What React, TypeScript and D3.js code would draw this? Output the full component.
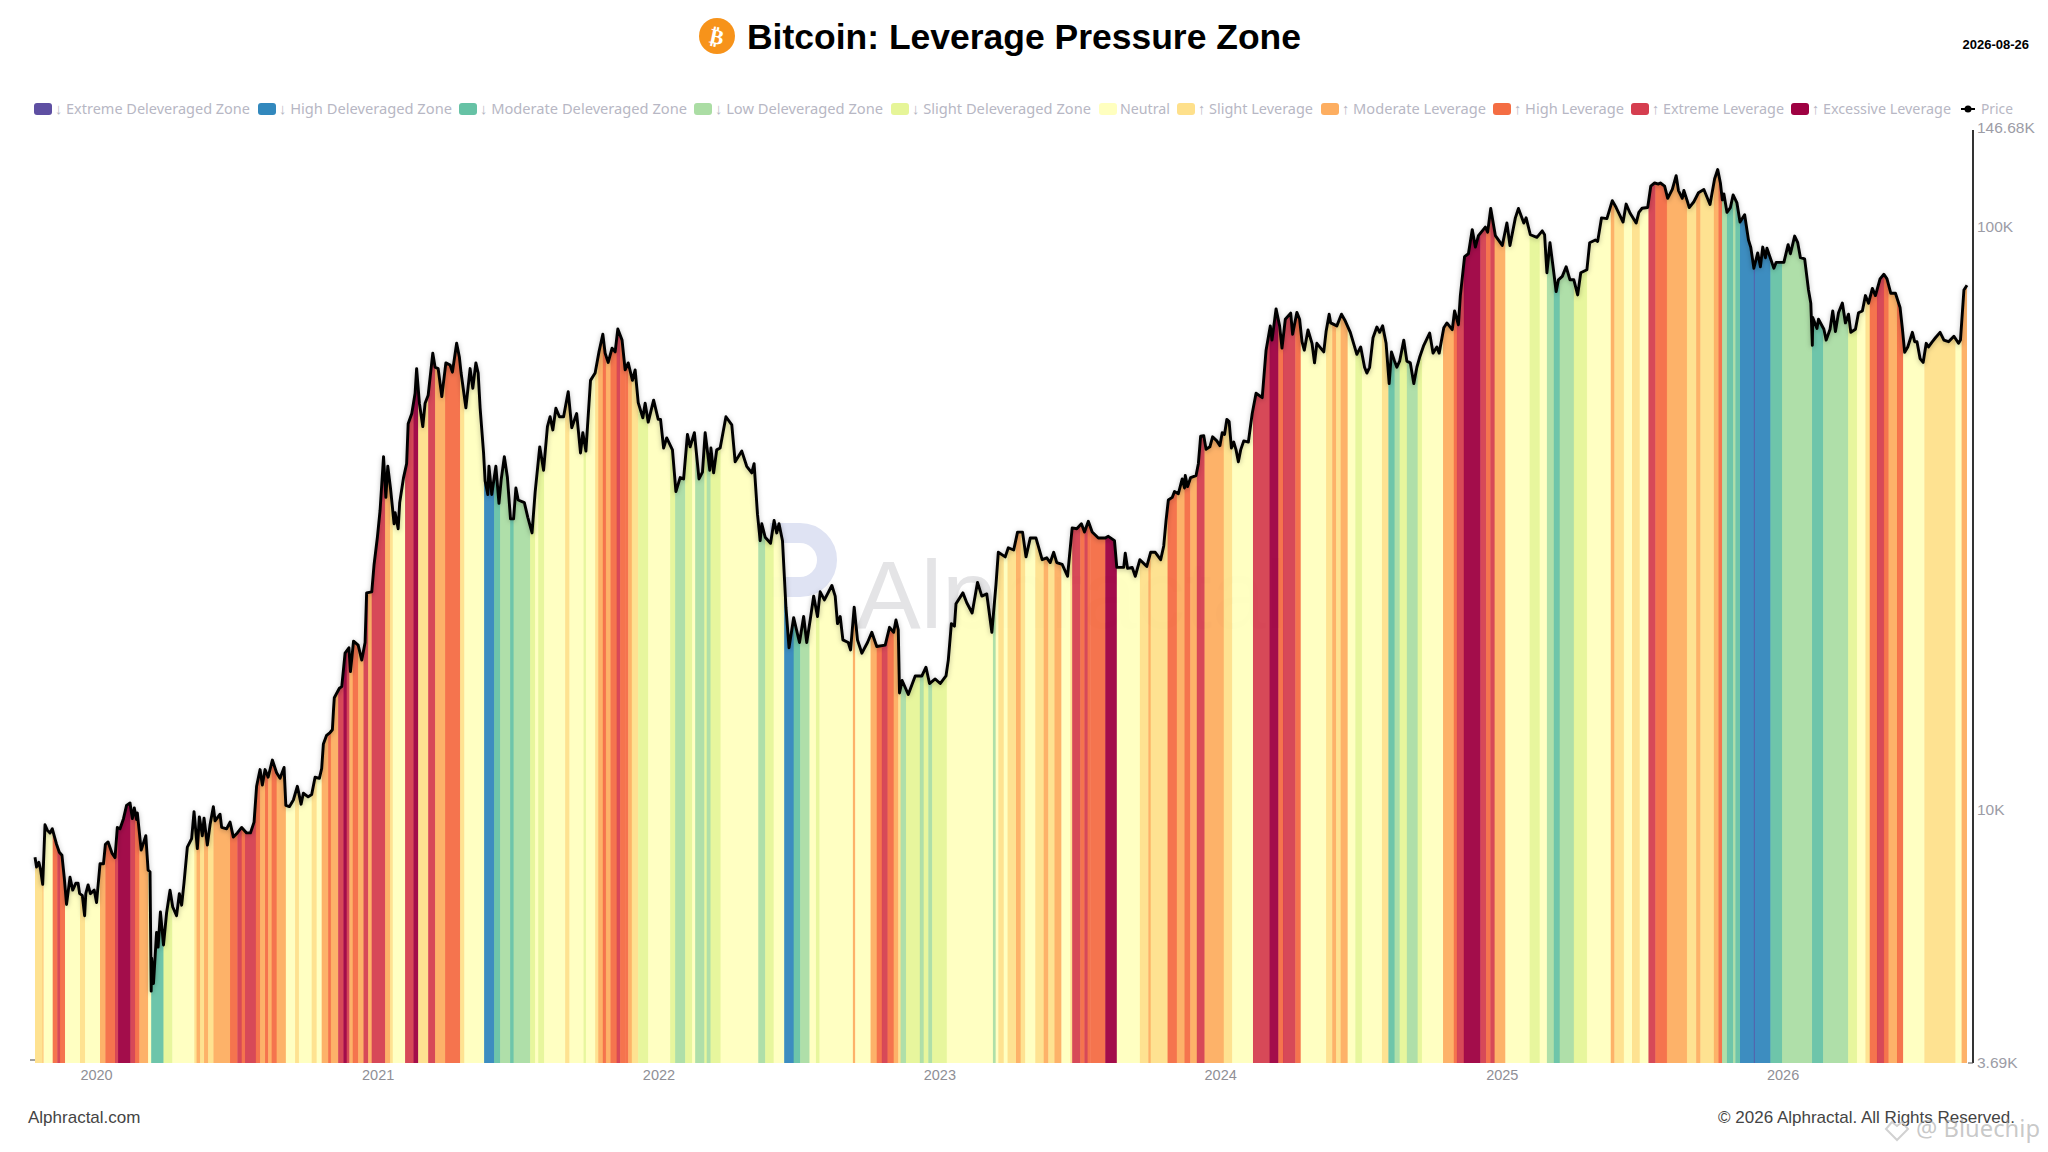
import * as d3 from 'd3'

// zone names, lowest leverage first
const zoneNames = [
  '↓ Extreme Deleveraged Zone',
  '↓ High Deleveraged Zone',
  '↓ Moderate Deleveraged Zone',
  '↓ Low Deleveraged Zone',
  '↓ Slight Deleveraged Zone',
  'Neutral',
  '↑ Slight Leverage',
  '↑ Moderate Leverage',
  '↑ High Leverage',
  '↑ Extreme Leverage',
  '↑ Excessive Leverage',
]
const zoneColors = ['#5e4fa2', '#3288bd', '#66c2a5', '#abdda4', '#e6f598', '#ffffbf', '#fee08b', '#fdae61', '#f46d43', '#d53e4f', '#9e0142']

const yearTicks = [2020, 2021, 2022, 2023, 2024, 2025, 2026]
const priceTicks = [3690, 10000, 100000, 146680]
const priceTickLabels = ['3.69K', '10K', '100K', '146.68K']

// [days since 2019-10-13, price in thousands of USD]
const pricePoints: [number, number][] = [
  [0, 8.31], [2, 8.0], [5, 8.15], [7, 7.95], [10, 7.47], [13, 9.45], [16, 9.25], [19.5, 9.15], [22.5, 9.3], [26, 8.95],
  [28, 8.75], [31.6, 8.48], [35, 8.38], [38, 7.68], [41, 6.9], [45.5, 7.68], [49, 7.3], [53, 7.5], [56, 7.5], [58, 7.2],
  [61.5, 7.15], [64.5, 6.6], [66, 7.2], [69, 7.45], [72, 7.2], [77, 7.3], [80, 6.95], [84.5, 8.1], [89, 8.1], [91.5, 8.75],
  [95, 8.83], [100, 8.45], [104, 8.3], [107, 9.35], [110.5, 9.3], [115, 9.68], [119, 10.2], [123.5, 10.3], [126.5, 9.68], [129, 10.1],
  [132, 9.65], [133, 9.9], [138, 8.55], [144, 9.05], [147, 7.9], [149.5, 7.85], [151, 4.9], [151.6, 5.58], [154, 5.05], [158, 6.18],
  [160, 5.83], [163, 6.7], [167, 5.88], [171, 6.67], [175.5, 7.3], [179, 6.83], [184, 6.6], [187.6, 7.2], [190.6, 6.88], [193.7, 7.52],
  [198, 8.65], [203.6, 8.95], [206.7, 9.95], [211, 8.6], [213.6, 9.75], [217.5, 9.05], [219.7, 9.7], [224, 8.72], [227.5, 9.45], [231.8, 10.15],
  [234, 9.6], [240.5, 9.85], [242.6, 9.35], [249, 9.3], [253.5, 9.55], [257.8, 9.0], [263, 9.15], [268.6, 9.35], [275, 9.15], [280, 9.15],
  [284.7, 9.55], [288, 11.0], [292.5, 11.75], [295.5, 11.05], [299, 11.75], [303, 11.4], [308.5, 12.2], [314, 11.6], [318.5, 11.35], [323.7, 11.85],
  [326, 10.2], [330.6, 10.15], [335.8, 10.42], [341, 11.0], [345.8, 10.25], [348.8, 10.7], [355, 10.55], [359.6, 10.65], [364, 11.4], [369.6, 11.35],
  [372.6, 11.8], [374.8, 13.0], [379, 13.45], [383.5, 13.6], [386.5, 13.75], [388, 14.9], [389, 15.6], [395.6, 16.2], [398.7, 16.3], [403, 18.6],
  [408, 19.0], [410, 17.3], [414, 19.5], [420, 19.2], [424.7, 18.1], [429, 19.4], [431, 23.6], [437.7, 23.7], [440.7, 26.4], [445, 29.4],
  [448.5, 32.7], [453, 40.4], [456, 34.4], [458.5, 38.9], [462, 35.7], [466.7, 31.0], [468, 32.4], [472, 30.4], [474, 33.7], [479, 37.2],
  [483, 39.3], [485, 46.0], [489.7, 47.9], [494, 51.9], [496, 57.2], [499.6, 49.9], [504, 45.5], [507, 49.9], [511, 51.5], [517, 60.8],
  [520, 57.5], [524, 57.2], [528.7, 51.2], [534, 58.5], [539.5, 58], [542.5, 56.4], [548, 63.2], [551.6, 59.8], [553.8, 56.2], [560, 49.0],
  [565.5, 57.2], [569, 52.9], [573, 58.5], [576, 56.2], [578.5, 49.0], [583, 41.0], [585, 36.7], [588.5, 34.8], [590, 38.9], [593.6, 34.8],
  [599, 38.9], [603, 33.6], [606, 37.0], [610, 40.4], [614, 37.2], [618, 31.6], [622, 31.6], [625, 35.7], [628, 34.05], [636, 33.7],
  [640.5, 31.8], [646, 29.9], [650, 35.1], [656, 42.0], [661, 38.3], [666, 45.5], [669.5, 47.3], [673, 44.9], [677, 48.9], [681.6, 47.3],
  [687, 47.3], [693, 52.2], [697.6, 45.3], [704, 47.9], [709, 41.0], [712, 44.4], [716, 41.3], [722, 54.6], [728, 56.2], [733, 61.1],
  [738, 65.5], [741, 60.8], [745, 58.6], [750, 62], [754, 61.1], [757.5, 66.9], [763, 64.0], [767, 56.9], [771, 58.5], [776.5, 54.6],
  [780, 56.9], [784, 50.0], [790, 47.1], [793, 49.9], [797, 46.3], [804, 50.5], [810, 46.8], [813, 46.8], [817, 41.8], [821, 43.5],
  [828.5, 41.5], [833, 35.2], [838.5, 37.2], [843, 37.0], [848, 44.1], [851.5, 42.0], [857, 44.4], [863, 37.0], [867.5, 38.0], [871, 44.4],
  [877, 38.3], [878.5, 41.8], [882, 37.9], [886, 41.5], [890.5, 41.8], [898, 47.3], [905.6, 45.8], [910, 39.6], [918.6, 41.3], [925, 38.9],
  [931.6, 37.9], [934.6, 39.3], [939, 32.2], [942.5, 29.0], [944.6, 31.0], [949, 29.4], [956, 28.7], [960.6, 31.4], [964, 29.9], [967, 31.0],
  [971.5, 29.0], [976, 22.3], [980, 19.0], [986, 21.4], [993.6, 19.4], [999, 21.5], [1003, 19.4], [1007.5, 21.2], [1012, 23.3], [1017, 21.5],
  [1020.5, 23.7], [1026, 22.95], [1035.7, 24.3], [1040, 23.3], [1043, 20.9], [1046.5, 21.5], [1050, 19.6], [1057, 19.4], [1060, 18.84], [1064.7, 22.3],
  [1069, 19.6], [1074.7, 18.6], [1082, 19.4], [1087.6, 20.2], [1094, 19.1], [1105, 19.2], [1110.6, 20.6], [1116, 20.2], [1119, 21.2], [1122, 20.4],
  [1123.6, 15.9], [1127, 16.7], [1135, 15.8], [1144, 17.0], [1152.7, 17.0], [1158, 17.6], [1162.6, 16.5], [1170, 16.8], [1176.5, 16.5], [1184, 17.0],
  [1187, 18.1], [1191, 20.9], [1195, 20.7], [1197, 22.6], [1206, 23.6], [1211, 22.7], [1218, 21.8], [1225, 24.6], [1230.6, 23.3], [1237, 23.5],
  [1243.6, 20.2], [1249, 24.4], [1252, 27.7], [1261, 27.2], [1265, 28.2], [1272, 27.95], [1277, 30.0], [1283.5, 30.0], [1288, 27.2], [1293.5, 29.3],
  [1301, 29.3], [1309, 26.9], [1315, 27.1], [1319.5, 26.6], [1324, 27.7], [1328, 26.6], [1335, 26.4], [1342, 25.2], [1348, 30.5], [1354, 30.4],
  [1360, 31.0], [1364, 30.0], [1369, 31.3], [1374, 30.0], [1382, 29.3], [1391, 29.3], [1395, 29.5], [1403, 29.0], [1406, 26.1], [1415, 26.1],
  [1417, 27.6], [1420, 26.0], [1426, 26.1], [1430, 25.2], [1436, 26.9], [1445, 26.2], [1450, 27.7], [1456, 27.7], [1463, 26.9], [1467, 28.4],
  [1470, 31.4], [1473, 34.05], [1478, 34.4], [1481, 35.2], [1486, 34.9], [1491, 37.0], [1494, 35.7], [1495, 37.5], [1498, 35.9], [1502, 37.2],
  [1509, 37.5], [1512, 39.3], [1515, 43.8], [1519, 43.9], [1522, 41.6], [1527, 42], [1530.5, 43.7], [1536, 43.0], [1540, 42.2], [1543, 44.4],
  [1546, 44.1], [1549, 46.8], [1552, 46.4], [1555, 41.8], [1558, 42.8], [1561, 41.5], [1564, 39.6], [1567, 41.5], [1571, 43.0], [1577, 42.8],
  [1582, 47.9], [1587, 51.9], [1595, 51], [1600, 61.5], [1605.5, 67.7], [1607.7, 64], [1613, 72.4], [1617.6, 67.7], [1620.7, 62.0], [1625, 69.5],
  [1632, 71.2], [1634.5, 65.5], [1640, 71.4], [1643.6, 69.5], [1646.7, 63.6], [1649.7, 61.5], [1654.5, 66.6], [1659.7, 63.2], [1663, 58.5], [1666, 63.2],
  [1675, 61.1], [1678, 66.2], [1682, 70.9], [1684, 68.5], [1692, 67.7], [1698, 70.9], [1703, 69], [1709.5, 66.0], [1718, 60.5], [1723, 62.3],
  [1728, 57.5], [1731, 56.2], [1734.6, 57.5], [1739, 64.6], [1744, 67.4], [1747.6, 66], [1751.5, 67.7], [1756, 63.2], [1760, 53.9], [1763, 61.1],
  [1767, 58.9], [1770, 57.5], [1773.6, 58.9], [1779, 64], [1783, 58.9], [1787.5, 58.5], [1792, 53.9], [1796, 57.5], [1799.6, 59.8], [1805, 62.7],
  [1812.6, 65.8], [1817, 60.8], [1822, 62.3], [1825, 60.8], [1831, 67.2], [1835, 68.5], [1842, 66.7], [1845, 71.8], [1850, 68], [1852.5, 76.3],
  [1858, 89], [1863, 90], [1868, 99], [1872, 92.4], [1876, 96.7], [1885, 100], [1888, 98], [1892, 107.6], [1898, 96.7], [1907, 93],
  [1913, 101.6], [1917, 93], [1924, 103.7], [1928, 107.6], [1935, 101.6], [1938, 103.7], [1943.5, 97], [1952, 96], [1959, 98.5], [1962, 97],
  [1965, 83.5], [1969, 94], [1973, 85.5], [1977, 77.5], [1980, 81.2], [1985, 82.3], [1990, 85.5], [1995, 81.2], [2000, 81.2], [2005, 76.5],
  [2009, 83.5], [2017, 84.5], [2020.6, 94], [2028, 95], [2031, 94.5], [2036, 103.7], [2043, 103.4], [2050, 111], [2055, 108], [2064, 102],
  [2068, 109.5], [2073, 105.7], [2081, 101.6], [2084.5, 106], [2088.7, 107.7], [2096, 108], [2100, 117.5], [2105, 119], [2110, 118.5], [2112.5, 119],
  [2118, 117.5], [2122, 112], [2128, 116], [2133, 122.5], [2136, 115.5], [2141, 112], [2143, 115.5], [2147, 111.3], [2150, 108], [2156, 110.5],
  [2162, 114.5], [2169, 116], [2177, 109.3], [2183, 121], [2187, 125.5], [2190.5, 119], [2193, 111.3], [2195, 114], [2199, 106], [2203.5, 108],
  [2207, 113.5], [2212, 110], [2216, 102], [2222, 105], [2227, 95], [2230, 92.3], [2234, 85], [2239, 90.3], [2242.5, 85.5], [2245.5, 92.4],
  [2249, 88.6], [2251, 92], [2254, 89.6], [2260, 85], [2263, 87], [2273, 87], [2278.5, 93.3], [2281.5, 90], [2287, 96.5], [2291, 94],
  [2294.5, 88.6], [2300, 88.2], [2305, 78], [2308, 74], [2310, 62.7], [2310.5, 70], [2316, 67], [2318, 69.5], [2325, 66.8], [2328, 64],
  [2333, 66.8], [2336.5, 71.8], [2340, 66.2], [2344, 71.3], [2349, 74.1], [2353, 68.5], [2357, 70.9], [2360, 66], [2366, 66.8], [2370, 71.3],
  [2375, 71.8], [2379, 76.3], [2383, 74], [2388, 78.5], [2392, 76.3], [2398, 81.5], [2403, 83], [2407, 81.5], [2412, 77], [2418, 77],
  [2424, 72.8], [2427, 67], [2430, 61], [2434, 62.3], [2440, 66], [2443, 63.6], [2446, 63.6], [2450, 59.5], [2454, 58.6], [2458, 63.2],
  [2461, 62.3], [2466, 63.6], [2470, 64.6], [2476, 66], [2481, 64], [2487, 63.6], [2494, 65], [2500, 63.2], [2502.5, 64], [2507, 78], [2511, 79.5],
]

// [last day of the run, zone index] read left to right
const zoneRuns: [number, number][] = [
  [10, 6], [11, 7], [23, 5], [29, 8], [32.5, 9], [39, 8], [58.5, 5], [65, 6], [84.5, 5], [91.5, 7], [104, 8], [108, 9], [124, 10], [130, 9], [135.6, 8], [147, 7], [151, 5],
  [167, 2], [178.5, 4], [207, 5], [210, 6], [214.5, 7], [219.7, 6], [225, 7], [232, 6], [253.5, 7], [263, 8], [268.6, 9], [273, 8], [287, 9], [292.5, 8], [299, 7], [303, 8], [307.6, 7], [314, 8], [326, 7],
  [338, 5], [343, 6], [359.6, 5], [366, 6], [372.6, 5], [381, 7], [384.5, 8], [394, 7], [401, 9], [405, 10], [408.6, 9], [413, 7], [420, 8], [427, 7], [433, 9], [437.6, 7], [455, 9], [461.5, 7], [465, 6], [481, 5],
  [492, 9], [498, 10], [511, 6], [520, 9], [533, 7], [552.5, 8], [558, 6], [583.7, 5], [596.7, 1], [604.5, 2], [617.5, 3], [622, 2], [643.5, 3], [650, 4], [654, 5], [661.7, 4], [689, 5], [694.6, 6], [713, 5], [716, 4], [728, 5],
  [732, 6], [738, 7], [742, 8], [748, 7], [756, 8], [760.5, 9], [767, 8], [771, 8], [775.6, 7], [784, 6], [797, 4], [825.5, 5], [832, 4], [845, 3], [854, 4], [858, 5], [870, 3], [873, 4], [878, 3], [891, 4],
  [940, 5], [949, 3], [960, 4], [973.7, 5], [986, 1], [994.5, 2], [1006.6, 3], [1015, 5], [1019.6, 4], [1063, 5], [1066, 7], [1086, 5], [1094, 7], [1100.6, 8], [1108, 9], [1116, 8], [1122, 7], [1125, 6],
  [1132, 3], [1150, 4], [1155, 3], [1161, 4], [1166, 3], [1185, 4], [1245, 5], [1248.5, 3], [1252, 5], [1259, 6], [1264, 5], [1275, 6], [1281, 7], [1287, 6], [1300, 5], [1311, 6], [1317, 7], [1325, 6], [1334, 7], [1345.5, 5], [1348, 6],
  [1358.5, 9], [1364, 8], [1368, 9], [1371.5, 8], [1391, 8], [1406, 10], [1436, 5], [1447, 6], [1450, 7], [1472, 6], [1484, 8], [1494, 7], [1501.5, 8], [1510, 7], [1520, 9], [1545, 7], [1556, 6], [1583, 5],
  [1604.6, 9], [1616, 10], [1622, 8], [1638, 9], [1645, 8], [1678, 5], [1686, 6], [1691, 7], [1697, 6], [1706, 7], [1716, 5], [1724.6, 4], [1750.6, 5], [1759, 6], [1767, 2], [1773.6, 3], [1783, 4], [1797, 3], [1802.6, 4], [1830, 5],
  [1844, 7], [1848, 8], [1857, 9], [1878.5, 10], [1886, 9], [1891.5, 8], [1897, 9], [1911, 7], [1942.6, 5], [1955.6, 4], [1965, 5], [1974, 3], [1981.6, 2], [2000, 3], [2017, 4], [2048, 5], [2052.7, 7], [2065, 6], [2075.6, 5], [2085.6, 6], [2097, 5],
  [2106, 9], [2121, 8], [2147, 7], [2159, 6], [2164.5, 7], [2182, 6], [2188, 7], [2192.6, 8], [2199, 3], [2207, 2], [2210, 3], [2216, 2], [2234, 1], [2235, 0], [2255.5, 1], [2270.6, 2], [2309.6, 3], [2324, 2], [2356.5, 3], [2368, 4], [2379, 5], [2384.6, 6],
  [2394, 8], [2403, 9], [2409, 8], [2420, 7], [2428, 8], [2455.6, 5], [2496, 6], [2504, 5], [2511, 7],
]

// layout of the legend, left edge of each swatch and right edge of each label
const legendSwatchX = [34, 258, 459, 694, 891, 1099, 1177, 1321, 1493, 1631, 1791]
const legendTextEnd = [250, 452, 687, 883, 1091, 1170, 1313, 1486, 1624, 1784, 1951]

const W = 2048
const H = 1152
const plot = { left: 35, right: 1967, top: 130, bottom: 1063, axis: 1973 }
const firstDay = new Date(2019, 9, 13)
const toDate = (day: number) => new Date(firstDay.getTime() + day * 86400000)
const font = '"Liberation Sans", Arial, sans-serif'
const legendGrey = '#b7b7c4'

export default function App() {
  const x = d3.scaleTime().domain([firstDay, toDate(2511)]).range([plot.left, plot.right])
  const y = d3.scaleLog().domain([priceTicks[0], priceTicks[3]]).range([plot.bottom, plot.top])

  const line = d3
    .line<[number, number]>()
    .x((d) => x(toDate(d[0])))
    .y((d) => y(d[1] * 1000))
  const area = d3
    .area<[number, number]>()
    .x((d) => x(toDate(d[0])))
    .y0(plot.bottom)
    .y1((d) => y(d[1] * 1000))

  let prevDay = 0

  return (
    <svg width={W} height={H} viewBox={`0 0 ${W} ${H}`} style={{ position: 'fixed', left: 0, top: 0, background: '#fff' }}>
      <defs>
        <clipPath id="under-price">
          <path d={area(pricePoints) as string} />
        </clipPath>
        <filter id="soft" x="-2%" y="-2%" width="104%" height="104%">
          <feDropShadow dx="0" dy="1" stdDeviation="2.5" floodColor="#000" floodOpacity="0.28" />
        </filter>
        <filter id="band-blur" x="0" y="0" width="100%" height="100%">
          <feGaussianBlur stdDeviation="0.7 0" />
        </filter>
      </defs>

      {/* title */}
      <circle cx={717} cy={36} r={18} fill="#f7931a" />
      <text x={717} y={44} transform="rotate(12 717 36)" textAnchor="middle" fontFamily="DejaVu Sans" fontWeight="bold" fontSize={21} fill="#fff">
        ₿
      </text>
      <text x={747} y={49} fontFamily={font} fontWeight="bold" fontSize={35.5} fill="#000" textLength={554} lengthAdjust="spacingAndGlyphs">
        Bitcoin: Leverage Pressure Zone
      </text>
      <text x={2029} y={49} textAnchor="end" fontFamily={font} fontWeight="bold" fontSize={13} fill="#000">
        2026-08-26
      </text>

      {/* legend */}
      {zoneNames.map((name, i) => (
        <g key={name}>
          <rect x={legendSwatchX[i]} y={103} width={18} height={12} rx={3} fill={zoneColors[i]} />
          <text
            x={legendSwatchX[i] + 21}
            y={114}
            fontFamily="'Noto Sans'"
            fontSize={15}
            fill={legendGrey}
            textLength={legendTextEnd[i] - legendSwatchX[i] - 21}
            lengthAdjust="spacingAndGlyphs"
          >
            {name}
          </text>
        </g>
      ))}
      <line x1={1961} x2={1975} y1={109} y2={109} stroke="#000" strokeWidth={2} />
      <circle cx={1968} cy={109} r={3.5} fill="#000" />
      <text x={1981} y={114} fontFamily="'Noto Sans'" fontSize={15} fill={legendGrey} textLength={32} lengthAdjust="spacingAndGlyphs">
        Price
      </text>

      {/* watermark sits under the bands */}
      <path d="M 770 533 H 800 A 27 27 0 0 1 800 587 H 772" fill="none" stroke="#dfe3f3" strokeWidth={20} />
      <text x={856} y={628} fontFamily={font} fontSize={97} fill="#e4e4e6">
        Alphractal
      </text>

      {/* zone bands, only under the price */}
      <g clipPath="url(#under-price)">
        <g filter="url(#band-blur)">
          {zoneRuns.map(([end, zone], i) => {
            const x0 = x(toDate(prevDay))
            const x1 = x(toDate(end))
            prevDay = end
            return <rect key={i} x={x0} y={plot.top} width={x1 - x0 + 0.4} height={plot.bottom - plot.top} fill={zoneColors[zone]} fillOpacity={0.95} />
          })}
        </g>
      </g>

      <path d={line(pricePoints) as string} fill="none" stroke="#000" strokeWidth={2.9} strokeLinejoin="round" filter="url(#soft)" />

      {/* axes */}
      <line x1={plot.axis} x2={plot.axis} y1={plot.top} y2={plot.bottom} stroke="#000" strokeWidth={1.6} />
      <line x1={plot.axis - 5} x2={plot.axis} y1={plot.bottom} y2={plot.bottom} stroke="#555" strokeWidth={1} />
      <line x1={30} x2={35} y1={1060} y2={1060} stroke="#666" strokeWidth={1.2} />
      {priceTicks.map((t, i) => (
        <text key={t} x={1977} y={y(t) + (t === 146680 ? 3 : 5)} fontFamily={font} fontSize={15.5} fill="#9c9ca6">
          {priceTickLabels[i]}
        </text>
      ))}
      {yearTicks.map((year) => (
        <text key={year} x={x(new Date(year, 0, 1))} y={1080} textAnchor="middle" fontFamily={font} fontSize={14.5} fill="#8f8f96">
          {year}
        </text>
      ))}

      {/* footer */}
      <text x={28} y={1123} fontFamily={font} fontSize={17} fill="#444">
        Alphractal.com
      </text>
      <text x={2015} y={1123} textAnchor="end" fontFamily={font} fontSize={17} fill="#444">
        © 2026 Alphractal. All Rights Reserved.
      </text>

      {/* site stamp */}
      <path d="M 1897 1140 L 1886 1129 L 1892 1122 L 1897 1126 L 1902 1122 L 1908 1129 Z" fill="none" stroke="#bdbdbd" strokeOpacity={0.7} strokeWidth={2} />
      <text x={1916} y={1137} fontFamily="'Noto Sans'" fontSize={24} fill="#9a9a9a" fillOpacity={0.55} textLength={124} lengthAdjust="spacingAndGlyphs">
        @ Bluechip
      </text>
    </svg>
  )
}
